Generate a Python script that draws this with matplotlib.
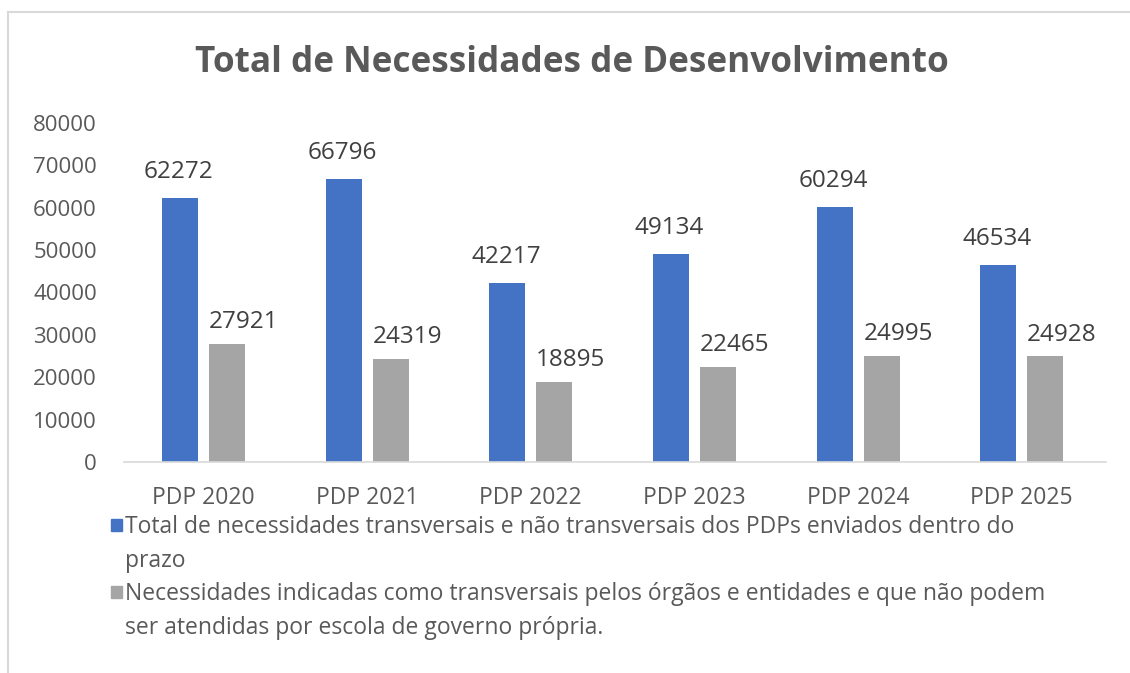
import matplotlib.pyplot as plt
from matplotlib.patches import Rectangle
import numpy as np

categories = ["PDP 2020", "PDP 2021", "PDP 2022", "PDP 2023", "PDP 2024", "PDP 2025"]
total = [62272, 66796, 42217, 49134, 60294, 46534]
transversais = [27921, 24319, 18895, 22465, 24995, 24928]
labels = [
    "Total de necessidades transversais e não transversais dos PDPs enviados dentro do\nprazo",
    "Necessidades indicadas como transversais pelos órgãos e entidades e que não podem\nser atendidas por escola de governo própria.",
]
colors = ["#4472C4", "#A5A5A5"]

plt.rcParams['font.family'] = ['Open Sans', 'DejaVu Sans']
grey = "#595959"

fig = plt.figure(figsize=(11.3, 6.73), dpi=100)
ax = fig.add_axes([124 / 1130, 1 - 462 / 673, (1106 - 124) / 1130, (462 - 123) / 673])

x = np.arange(len(categories)) - 0.015
w = 0.22
off = 0.1435
b1 = ax.bar(x - off, total, w, color=colors[0])
b2 = ax.bar(x + off, transversais, w, color=colors[1])
# excel put the grey labels a bit to the right of their bars
for bars, vals, dx, dy in [(b1, total, -1, 10), (b2, transversais, 12, 7)]:
    for r, v in zip(bars, vals):
        ax.annotate(str(v), (r.get_x() + r.get_width() / 2, v), xytext=(dx, dy),
                    textcoords="offset points", ha="center", va="bottom",
                    fontsize=17.5, color="#404040")

ax.set_xlim(-0.5, len(categories) - 0.5)
ax.set_ylim(0, 80000)
ax.set_yticks(range(0, 80001, 10000))
ax.set_xticks(x)
ax.set_xticklabels(categories)
ax.tick_params(axis='x', length=0, labelsize=16.5, labelcolor=grey, pad=17)
ax.tick_params(axis='y', length=0, labelsize=16, labelcolor=grey, pad=19.5)
for s in ["top", "right", "left"]:
    ax.spines[s].set_visible(False)
ax.spines["bottom"].set_color("#D9D9D9")
ax.spines["bottom"].set_linewidth(1.2)

fig.text(0.506, 1 - 63 / 673, "Total de Necessidades de Desenvolvimento", ha="center", va="center",
         fontsize=25.3, fontweight="bold", color=grey)

# legend, marker beside the first line of each wrapped label
for i, (lab, c) in enumerate(zip(labels, colors)):
    y = 525 + i * 67
    fig.add_artist(Rectangle((111 / 1130, 1 - (y + 6) / 673), 11 / 1130, 12 / 673,
                             color=c, transform=fig.transFigure))
    fig.text(125 / 1130, 1 - (y - 10) / 673, lab, ha="left", va="top", fontsize=16.5,
             color=grey, linespacing=1.55)

# outer frame (left and top)
fig.add_artist(plt.Line2D([8 / 1130, 8 / 1130], [0, 1 - 12 / 673], color="#D9D9D9", lw=1.5))
fig.add_artist(plt.Line2D([8 / 1130, 1], [1 - 12 / 673, 1 - 12 / 673], color="#D9D9D9", lw=1.5))

fig.savefig("out.png", dpi=100, facecolor="white")
